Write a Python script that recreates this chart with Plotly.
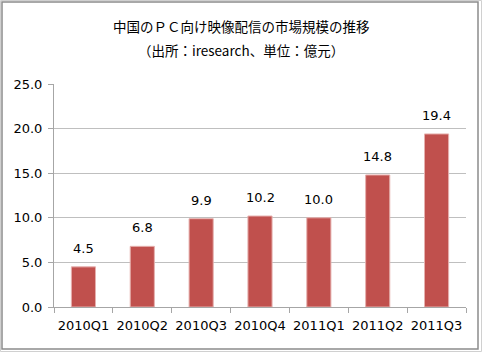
import plotly.graph_objects as go

categories = ["2010Q1", "2010Q2", "2010Q3", "2010Q4", "2011Q1", "2011Q2", "2011Q3"]
values = [4.5, 6.8, 9.9, 10.2, 10.0, 14.8, 19.4]
title_line1 = "中国のＰＣ向け映像配信の市場規模の推移"
title_line2 = "（出所：iresearch、単位：億元）"

W, H = 482, 352
L, R, T, B = 54, 16, 84, 45
pw, ph = W - L - R, H - T - B

def px(x):
    return (x - L) / pw

def py(y):
    return (H - B - y) / ph

fig = go.Figure()
fig.add_trace(go.Bar(
    x=categories, y=values,
    marker=dict(color="#C0504D", line=dict(color="#E6B0AE", width=1)),
    width=0.41,
    hoverinfo="skip",
))

for c, v in zip(categories, values):
    fig.add_annotation(x=c, y=v, text=f"{v:.1f}", showarrow=False,
                       yanchor="bottom", yshift=9,
                       font=dict(family="DejaVu Sans", size=13, color="#000000"))

fig.add_annotation(xref="paper", yref="paper", x=px(241), y=py(25.5), text=title_line1,
                   showarrow=False, xanchor="center", yanchor="middle",
                   font=dict(family="Noto Sans CJK JP", size=13.5, color="#000000"))
fig.add_annotation(xref="paper", yref="paper", x=px(241), y=py(49.5), text=title_line2,
                   showarrow=False, xanchor="center", yanchor="middle",
                   font=dict(family="Noto Sans CJK JP", size=13.5, color="#000000"))

# outer border
fig.add_shape(type="rect", xref="paper", yref="paper",
              x0=px(0.5), x1=px(481.5), y0=py(351.5), y1=py(0.5),
              line=dict(color="#D0D0D0", width=1))
fig.add_shape(type="rect", xref="paper", yref="paper",
              x0=px(2), x1=px(478), y0=py(349), y1=py(2),
              line=dict(color="#8C8C8C", width=1.5))

fig.update_layout(
    width=W, height=H,
    margin=dict(l=L, r=R, t=T, b=B, autoexpand=False),
    paper_bgcolor="white", plot_bgcolor="white",
    showlegend=False,
    font=dict(family="DejaVu Sans", size=13, color="#000000"),
    xaxis=dict(
        type="category", tickson="boundaries", ticks="outside", ticklen=5,
        tickangle=0, automargin=False, ticklabelstandoff=6,
        tickcolor="#A6A6A6", showgrid=False, showline=True, linecolor="#A6A6A6",
        linewidth=1, tickfont=dict(family="DejaVu Sans", size=13, color="#000000"),
        fixedrange=True,
    ),
    yaxis=dict(
        range=[0, 25], dtick=5, tick0=0, tickformat=".1f", automargin=False,
        ticks="outside", ticklen=5, tickcolor="#A6A6A6", ticklabelstandoff=3,
        showgrid=True, gridcolor="#BFBFBF", gridwidth=1,
        showline=True, linecolor="#A6A6A6", linewidth=1, zeroline=False,
        tickfont=dict(family="DejaVu Sans", size=13, color="#000000"),
        fixedrange=True,
    ),
)

fig.write_html("out.html", config={"displayModeBar": False})
